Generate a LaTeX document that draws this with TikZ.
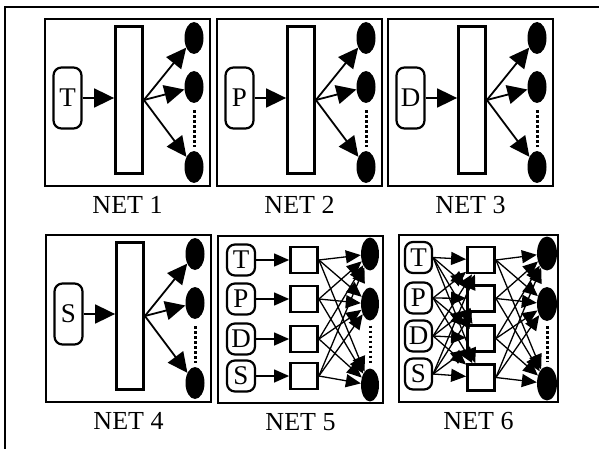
\documentclass[tikz,border=0pt]{standalone}
\usepackage{fontspec}
\setmainfont{Liberation Serif}
\usetikzlibrary{shapes.geometric, arrows.meta}

\begin{document}
\begin{tikzpicture}[x=1pt, y=-1pt,
        frame/.style={draw, line width=1.8pt, inner sep=0pt, minimum width=165pt, minimum height=167pt},
        inbox/.style={draw, rounded corners=8pt, line width=2.2pt, minimum width=28pt, minimum height=31pt,
            inner sep=0pt, font=\fontsize{27}{27}\selectfont},
        tallbox/.style={draw, line width=2.8pt, minimum width=27pt, minimum height=147pt, inner sep=0pt},
        sqbox/.style={draw, line width=2.8pt, minimum width=27pt, minimum height=26pt, inner sep=0pt},
        outnode/.style={ellipse, fill=black, minimum width=19pt, minimum height=32pt, inner sep=0pt},
        bigarr/.style={-{Triangle[length=20pt,width=19pt]}, line width=1.8pt},
        smallarr/.style={-{Triangle[length=15pt,width=13pt]}, line width=1.3pt},
        dots/.style={line width=3pt, dash pattern=on 2.6pt off 2.4pt},
        netlabel/.style={font=\fontsize{26}{26}\selectfont, anchor=base}]
    \useasboundingbox (0,0) rectangle (599,449);

    % outer border (top and left only)
    \draw[line width=2pt] (599,7) -- (5,7) -- (5,449);

    % NET 1 - NET 4: one input, one hidden block
    \foreach \n/\dx/\dy/\lab in {1/0/0/T, 2/172/0/P, 3/343/0/D, 4/1/216/S} {
        \begin{scope}[shift={(\dx,\dy)}]
            \node[frame] (net\n) at (127.5,102.5) {};
            \node[inbox, minimum height=61pt] (in\n) at (67.5,98) {\lab};
            \node[tallbox] (hid\n) at (129,100) {};
            \node[outnode] (o\n-1) at (194,38) {};
            \node[outnode] (o\n-2) at (194,87) {};
            \node[outnode] (o\n-3) at (194,167) {};
        \end{scope}
        \draw[bigarr] (in\n.east) -- (in\n.east -| hid\n.west);
        \draw[bigarr] (hid\n.east) -- (o\n-1);
        \draw[bigarr] (hid\n.east) -- (o\n-2);
        \draw[bigarr] (hid\n.east) -- (o\n-3);
        \draw[dots, shorten <=7pt, shorten >=4pt] (o\n-2.south) -- (o\n-3.north);
        \node[netlabel] at ([yshift=-27pt]net\n.south) {NET \n};
    }

    % NET 5: four inputs, four blocks, fully connected to outputs
    \node[frame] (net5) at (300.5,319.5) {};
    \foreach \i/\lab/\y in {1/T/260, 2/P/299, 3/D/339, 4/S/376} {
        \node[inbox] (p\i) at (241,\y) {\lab};
        \node[sqbox] (q\i) at (304,\y) {};
        \draw[smallarr] (p\i) -- (q\i);
    }
    \foreach \j/\y in {1/254, 2/304, 3/385}
        \node[outnode, minimum width=18pt, minimum height=33pt] (r\j) at (370,\y) {};
    \foreach \i in {1,...,4}
        \foreach \j in {1,2,3}
            \draw[smallarr] (q\i.east) -- (r\j);
    \draw[dots, shorten <=5pt, shorten >=4pt] (r2.south) -- (r3.north);
    \node[netlabel] at ([yshift=-27pt]net5.south) {NET 5};

    % NET 6: inputs fully connected to blocks, blocks fully connected to outputs
    \node[frame, minimum width=159pt] (net6) at (478.5,318.5) {};
    \foreach \i/\lab/\ya/\yb in {1/T/257.5/260, 2/P/298/298.5, 3/D/336/338.5, 4/S/374/377.5} {
        \node[inbox, minimum width=27pt] (a\i) at (418.5,\ya) {\lab};
        \node[sqbox] (b\i) at (481,\yb) {};
    }
    \foreach \j/\y in {1/253.5, 2/304, 3/383.5}
        \node[outnode, minimum width=20pt, minimum height=34pt] (c\j) at (547,\y) {};
    \foreach \i in {1,...,4}
        \foreach \k in {1,...,4}
            \draw[smallarr] (a\i.east) -- (b\k);
    \foreach \k in {1,...,4}
        \foreach \j in {1,2,3}
            \draw[smallarr] (b\k.east) -- (c\j);
    \draw[dots, shorten <=5pt, shorten >=4pt] (c2.south) -- (c3.north);
    \node[netlabel] at ([yshift=-27pt]net6.south) {NET 6};
\end{tikzpicture}
\end{document}
